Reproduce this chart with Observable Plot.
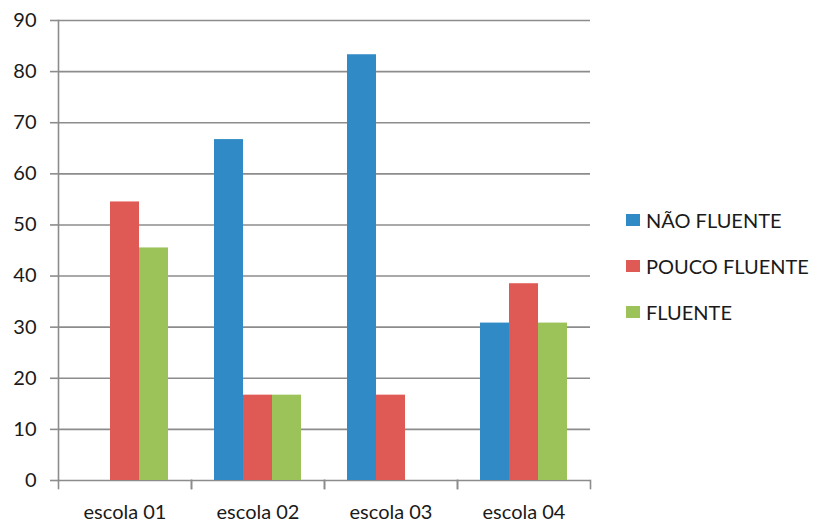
<!DOCTYPE html>
<html><head><meta charset="utf-8">
<script src="https://cdn.jsdelivr.net/npm/d3@7"></script>
<script src="https://cdn.jsdelivr.net/npm/@observablehq/plot@0.6"></script>
<style>
body{margin:0;background:#fff;}
#wrap{position:relative;width:813px;height:525px;font-family:Lato, sans-serif;color:#1a1a1a;}
#legend{position:absolute;left:626px;top:197px;}
.row{display:flex;align-items:center;height:46px;font-size:20px;}
.sw{width:14px;height:12px;margin-right:6px;}
</style></head><body><div id="wrap"><div id="chart"></div><div id="legend"></div></div>
<script>
const schools = ["escola 01", "escola 02", "escola 03", "escola 04"];
const seriesNames = ["NÃO FLUENTE", "POUCO FLUENTE", "FLUENTE"];
const naoFluente = [0, 66.7, 83.3, 30.8];
const poucoFluente = [54.5, 16.7, 16.7, 38.5];
const fluente = [45.5, 16.7, 0, 30.8];
const yTicks = [0, 10, 20, 30, 40, 50, 60, 70, 80, 90];
const colors = ["#2f8ac6", "#e05a55", "#9bc35a"];

const seriesValues = [naoFluente, poucoFluente, fluente];
const data = [];
schools.forEach((s, i) => seriesNames.forEach((n, j) => data.push({school: s, series: n, value: seriesValues[j][i]})));

const H = 525, MT = 20, MB = 45;
const facetH = H - MT - MB;
const grid = "#8c8c8c";

const chart = Plot.plot({
  width: 600, height: H, marginTop: MT, marginBottom: MB, marginLeft: 57, marginRight: 10,
  style: {fontFamily: "Lato, sans-serif", fontSize: "20px", color: "#1a1a1a", background: "#fff"},
  fx: {domain: schools, padding: 0, label: null},
  x: {domain: seriesNames, paddingInner: 0, paddingOuter: 0.72, axis: null},
  y: {domain: [0, 90], label: null},
  color: {domain: seriesNames, range: colors},
  marks: [
    Plot.ruleY(yTicks, {y: d => d, stroke: grid, strokeWidth: 1.6}),
    Plot.barY(data, {fx: "school", x: "series", y: "value", fill: "series"}),
    Plot.frame({anchor: "left", facetAnchor: "left", stroke: grid, strokeWidth: 1.6}),
    Plot.frame({anchor: "left", stroke: grid, strokeWidth: 1.6, insetTop: facetH, insetBottom: -8}),
    Plot.frame({anchor: "right", stroke: grid, strokeWidth: 1.6, insetTop: facetH, insetBottom: -8}),
    Plot.axisY({ticks: yTicks, tickSize: 8, tickPadding: 14, stroke: grid, strokeWidth: 1.6, fill: "#1a1a1a", fontSize: 20, label: null}),
    Plot.axisFx({anchor: "bottom", tickSize: 0, tickPadding: 24, fontSize: 20, fill: "#1a1a1a", label: null})
  ]
});
document.getElementById("chart").appendChild(chart);

const legend = document.getElementById("legend");
seriesNames.forEach((n, j) => {
  const row = document.createElement("div");
  row.className = "row";
  const sw = document.createElement("span");
  sw.className = "sw";
  sw.style.background = colors[j];
  const t = document.createElement("span");
  t.textContent = n;
  row.appendChild(sw); row.appendChild(t);
  legend.appendChild(row);
});
</script></body></html>
